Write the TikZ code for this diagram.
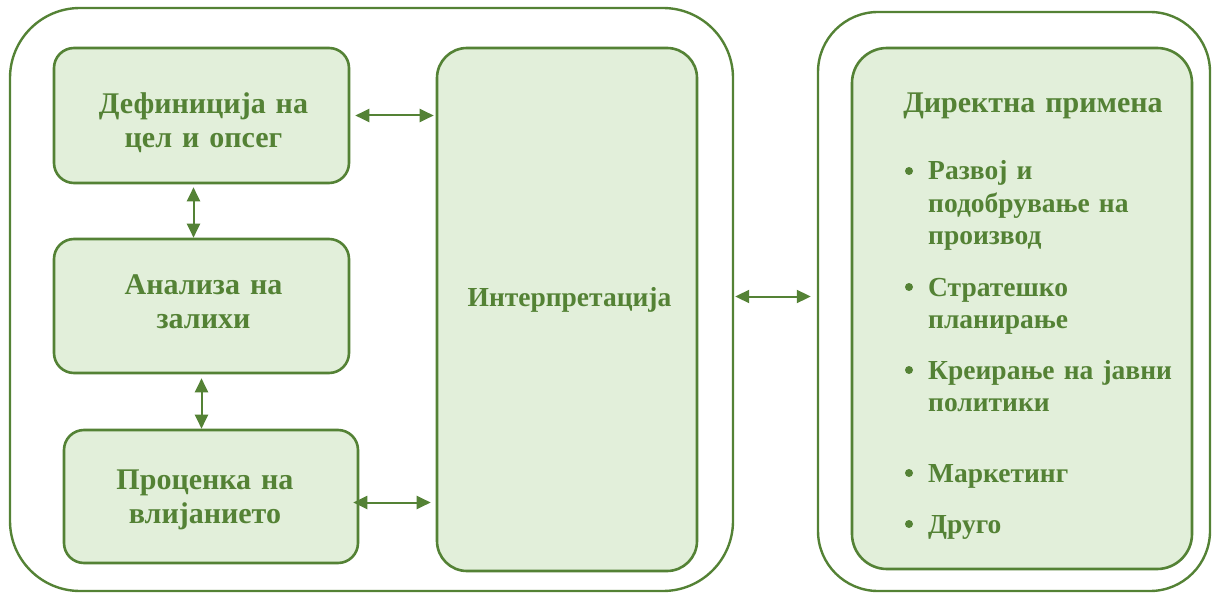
\documentclass[tikz,border=0pt]{standalone}
\usepackage{fontspec}
\setmainfont{Liberation Serif}
\usetikzlibrary{arrows.meta}
\definecolor{gdark}{HTML}{548235}
\definecolor{glight}{HTML}{E2EFDA}
\tikzset{
  container/.style={draw=gdark, line width=2.4pt, fill=white, rectangle, inner sep=0pt},
  box/.style={draw=gdark, line width=2.6pt, fill=glight, rectangle, inner sep=0pt, rounded corners=20pt},
  lbl/.style={text=gdark, font=\fontsize{30}{34}\selectfont\bfseries, align=center, text width=300pt, anchor=base, inner sep=0pt},
  item/.style={text=gdark, font=\fontsize{27.5}{32.5}\selectfont\bfseries, align=left, text width=270pt, anchor=base west, inner sep=0pt},
  dot/.style={circle, fill=gdark, inner sep=0pt, minimum size=8pt},
  arr/.style={draw=gdark, line width=2pt, {Triangle[length=14pt,width=13pt]}-{Triangle[length=14pt,width=13pt]}}
}
\begin{document}
\begin{tikzpicture}[x=1pt,y=-1pt]
\useasboundingbox (0,0) rectangle (1212,596);
% containers
\node[container, rounded corners=70pt, minimum width=723pt, minimum height=583pt] (outerL) at (371.5,299.5) {};
\node[container, rounded corners=60pt, minimum width=392pt, minimum height=579pt] (outerR) at (1014,301.5) {};
% boxes
\node[box, minimum width=295pt, minimum height=135pt] (b1) at (201.5,115.5) {};
\node[box, minimum width=295pt, minimum height=134pt] (b2) at (201.5,306) {};
\node[box, minimum width=294pt, minimum height=133pt] (b3) at (211,496.5) {};
\node[box, rounded corners=30pt, minimum width=260pt, minimum height=523pt] (interp) at (567,309.5) {};
\node[box, rounded corners=35pt, minimum width=340pt, minimum height=521pt] (apply) at (1022,308.5) {};
% labels
\node[lbl] (t1) at (203.5,114) {Дефиниција на\\цел и опсег};
\node[lbl] (t2) at (203.5,294) {Анализа на\\залихи};
\node[lbl] (t3) at (205,489) {Проценка на\\влијанието};
\node[lbl, font=\fontsize{27.5}{32.5}\selectfont\bfseries] (t4) at (569.5,306) {Интерпретација};
\node[lbl] (t5) at (1033,113) {Директна примена};
% bullet items
\node[item] (i1) at (928,180) {Развој и\\подобрување на\\производ};
\node[item] (i2) at (928,296) {Стратешко\\планирање};
\node[item] (i3) at (928,379) {Креирање на јавни\\политики};
\node[item] (i4) at (928,482) {Маркетинг};
\node[item] (i5) at (928,533) {Друго};
\foreach \i in {1,...,5} {
  \node[dot] (d\i) at ([xshift=-19pt,yshift=9pt]i\i.base west) {};
}
% connectors
\draw[arr, shorten <=5pt, shorten >=2pt] (b1.east) -- (b1.east -| interp.west);
\draw[arr, shorten <=3pt, shorten >=0pt] ([xshift=-8pt]b1.south) -- ([xshift=-8pt]b1.south |- b2.north);
\draw[arr, shorten <=4pt, shorten >=0pt] (b2.south) -- (b2.south |- b3.north);
\draw[arr, shorten <=-6pt, shorten >=5pt] ([yshift=-6pt]b3.east) -- ([yshift=-6pt]b3.east -| interp.west);
\draw[arr, shorten <=1pt, shorten >=6pt] ([yshift=3pt]outerL.east) -- ([yshift=3pt]outerL.east -| outerR.west);
\end{tikzpicture}
\end{document}
